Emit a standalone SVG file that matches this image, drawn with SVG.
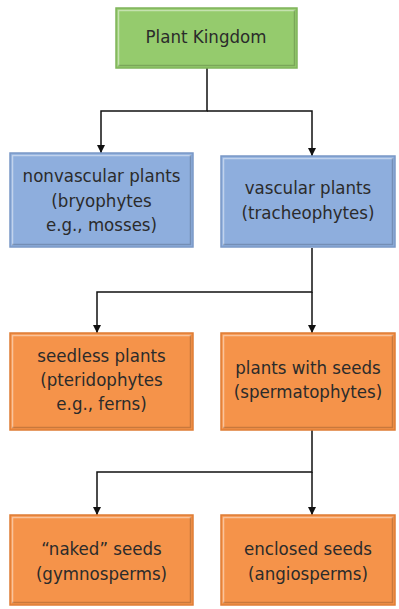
<svg xmlns="http://www.w3.org/2000/svg" width="399" height="609" viewBox="0 0 399 609">
<defs>
<style>
.t{font-family:"DejaVu Sans Condensed","DejaVu Sans",sans-serif;font-stretch:condensed;font-size:18.5px;fill:#2b2b2b;text-anchor:middle}
.g{fill:#95cb6d;stroke:#7fb45a;stroke-width:1.5}
.b{fill:#8eaedd;stroke:#7a98c6;stroke-width:1.5}
.o{fill:#f5934a;stroke:#de7c34;stroke-width:1.5}
.hl{fill:none;stroke:#ffffff;stroke-opacity:0.45;stroke-width:1.5}
.sh{fill:none;stroke:#000000;stroke-opacity:0.18;stroke-width:1.5}
.c{fill:none;stroke:#111;stroke-width:1.5}
</style>
<marker id="ah" viewBox="0 0 10 10" refX="10" refY="5" markerWidth="8" markerHeight="8" markerUnits="userSpaceOnUse" orient="auto">
<path d="M0,0 L10,5 L0,10 z" fill="#111"/>
</marker>
</defs>
<g id="connectors">
<path class="c" d="M207,68 V111 H101 V153" marker-end="url(#ah)"/>
<path class="c" d="M207,111 H312 V156" marker-end="url(#ah)"/>
<path class="c" d="M312,248 V292 H97 V333" marker-end="url(#ah)"/>
<path class="c" d="M312,292 V333" marker-end="url(#ah)"/>
<path class="c" d="M312,430 V472 H97 V515" marker-end="url(#ah)"/>
<path class="c" d="M312,472 V515" marker-end="url(#ah)"/>
</g>
<g id="plant-kingdom">
<rect class="g" x="116" y="8" width="181" height="60"/>
<path class="hl" d="M118.5,66 V10.5 H295"/>
<path class="sh" d="M118,65.5 H294.5 V10"/>
<text class="t" x="206" y="43">Plant Kingdom</text>
</g>
<g id="nonvascular">
<rect class="b" x="10" y="153" width="183" height="94"/>
<path class="hl" d="M12.5,245 V155.5 H191"/>
<path class="sh" d="M12,244.5 H190.5 V155"/>
<text class="t" x="101.5" y="182">nonvascular plants</text>
<text class="t" x="101.5" y="207">(bryophytes</text>
<text class="t" x="101.5" y="231">e.g., mosses)</text>
</g>
<g id="vascular">
<rect class="b" x="221" y="156" width="174" height="91"/>
<path class="hl" d="M223.5,245 V158.5 H393"/>
<path class="sh" d="M223,244.5 H392.5 V158"/>
<text class="t" x="308" y="194">vascular plants</text>
<text class="t" x="308" y="219">(tracheophytes)</text>
</g>
<g id="seedless">
<rect class="o" x="10" y="333" width="183" height="97"/>
<path class="hl" d="M12.5,428 V335.5 H191"/>
<path class="sh" d="M12,427.5 H190.5 V335"/>
<text class="t" x="101.5" y="362">seedless plants</text>
<text class="t" x="101.5" y="386">(pteridophytes</text>
<text class="t" x="101.5" y="410">e.g., ferns)</text>
</g>
<g id="with-seeds">
<rect class="o" x="221" y="333" width="174" height="97"/>
<path class="hl" d="M223.5,428 V335.5 H393"/>
<path class="sh" d="M223,427.5 H392.5 V335"/>
<text class="t" x="308" y="374">plants with seeds</text>
<text class="t" x="308" y="398">(spermatophytes)</text>
</g>
<g id="naked">
<rect class="o" x="10" y="515" width="183" height="90"/>
<path class="hl" d="M12.5,603 V517.5 H191"/>
<path class="sh" d="M12,602.5 H190.5 V517"/>
<text class="t" x="101.5" y="555">“naked” seeds</text>
<text class="t" x="101.5" y="580">(gymnosperms)</text>
</g>
<g id="enclosed">
<rect class="o" x="221" y="515" width="174" height="90"/>
<path class="hl" d="M223.5,603 V517.5 H393"/>
<path class="sh" d="M223,602.5 H392.5 V517"/>
<text class="t" x="308" y="555">enclosed seeds</text>
<text class="t" x="308" y="580">(angiosperms)</text>
</g>
</svg>
